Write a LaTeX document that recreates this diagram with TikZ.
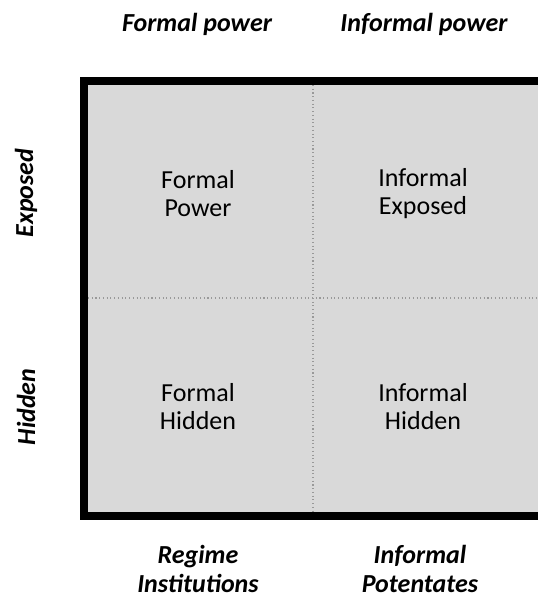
\documentclass[tikz,border=0pt]{standalone}
\usepackage{fontspec}
\setmainfont{Carlito}
\usetikzlibrary{positioning}

\tikzset{
  axislabel/.style = {font=\fontsize{19.5}{21.5}\selectfont\bfseries\itshape, align=center, inner sep=0pt},
  cellbox/.style = {font=\fontsize{19.5}{21}\selectfont, align=center, inner sep=0pt},
  divider/.style = {draw=gray!80, line width=0.8pt, dotted}
}

\begin{document}
\begin{tikzpicture}[x=0.75pt, y=-0.75pt]
  \useasboundingbox (0,0) rectangle (537,601);

  % the grid
  \coordinate (nw) at (84,81);
  \coordinate (se) at (560,516);
  \coordinate (topmid) at (313,85);
  \coordinate (botmid) at (313,512);
  \coordinate (leftmid) at (88,298);
  \coordinate (rightmid) at (560,298);
  \fill[fill={rgb,255:red,217;green,217;blue,217}] (nw) rectangle (se);
  \draw[divider] (topmid) -- (botmid);
  \draw[divider] (leftmid) -- (rightmid);
  \draw[line width=6pt] (nw) rectangle (se);

  % cells
  \node[cellbox] (formalpower) at (198,194) {Formal\\Power};
  \node[cellbox] (informalexposed) at (423,194) {Informal\\Exposed};
  \node[cellbox] (formalhidden) at (198,407) {Formal\\Hidden};
  \node[cellbox] (informalhidden) at (423,407) {Informal\\Hidden};

  % axis labels
  \node[axislabel] (colformal) at (197,24) {Formal power};
  \node[axislabel] (colinformal) at (424,24) {Informal power};
  \node[axislabel, rotate=90] (rowexposed) at (26,193) {Exposed};
  \node[axislabel, rotate=90] (rowhidden) at (26,407) {Hidden};
  \node[axislabel] (regime) at (198,569) {Regime\\Institutions};
  \node[axislabel] (potentates) at (420,569) {Informal\\Potentates};
\end{tikzpicture}
\end{document}
